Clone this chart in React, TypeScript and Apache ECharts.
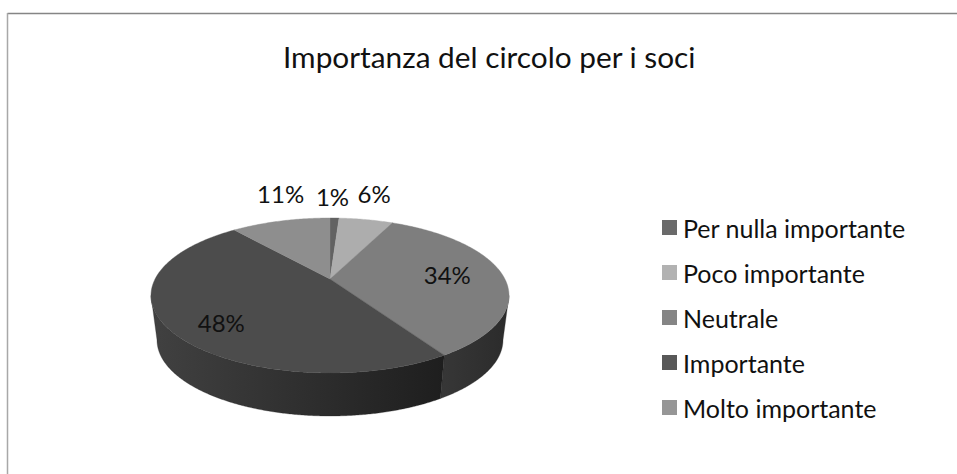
import React, { useEffect, useRef } from "react";
import * as echarts from "echarts";

const titleText = "Importanza del circolo per i soci";
const categories = ["Per nulla importante", "Poco importante", "Neutrale", "Importante", "Molto importante"];
const values = [1, 6, 34, 48, 11];
const legendColors = ["#6a6a6a", "#b2b2b2", "#858585", "#585858", "#969696"];
const topColors = ["#626262", "#adadad", "#7e7e7e", "#4c4c4c", "#8e8e8e"];
const sideLeft = ["#3a3a3a", "#4a4a4a", "#373737", "#414141", "#3a3a3a"];
const sideRight = ["#3a3a3a", "#4a4a4a", "#2b2b2b", "#1e1e1e", "#3a3a3a"];
// label placement relative to the rim point at the slice's mid angle
const labelOffsets = [[-2, -22], [8, -26], [-55, 0], [53, -6], [0, -28]];

const TOP = { cx: 330, cy: 295.5, rx: 179, ry: 77.5 };
const BOTTOM = { cx: 330, cy: 340, rx: 173, ry: 76 };
const APEX_SHIFT = (295.5 - 279) / 77.5;

// true pie angle (deg, clockwise from 12 o'clock) -> rim parameter on the perspective ellipse
function rimParam(deg: number) {
  const a = (deg * Math.PI) / 180;
  const x = Math.sin(a);
  const y = Math.cos(a);
  const d = APEX_SHIFT;
  const w = 1 + d * y;
  let t = Math.atan2((x * Math.sqrt(1 - d * d)) / w, (y + d) / w);
  if (deg > 0 && t < 0) t += Math.PI * 2;
  return t;
}
function rim(e: typeof TOP, t: number) {
  return [e.cx + e.rx * Math.sin(t), e.cy - e.ry * Math.cos(t)];
}
function arc(e: typeof TOP, t0: number, t1: number) {
  const n = Math.max(2, Math.ceil(Math.abs(t1 - t0) / 0.01));
  const pts: number[][] = [];
  for (let i = 0; i <= n; i++) pts.push(rim(e, t0 + ((t1 - t0) * i) / n));
  return pts;
}

function makeRender(i: number) {
  return (_params: any, api: any) => {
    const total = values.reduce((s, v) => s + v, 0);
    const before = values.slice(0, i).reduce((s, v) => s + v, 0);
    const v = api.value(0);
    const a0 = (before / total) * 360;
    const a1 = ((before + v) / total) * 360;
    const t0 = a0 === 0 ? 0 : rimParam(a0);
    const t1 = rimParam(a1);
    const apex = [TOP.cx, TOP.cy - APEX_SHIFT * TOP.ry];
    const children: any[] = [];

    const s0 = Math.max(t0, Math.PI / 2);
    const s1 = Math.min(t1, (Math.PI * 3) / 2);
    if (s1 > s0) {
      const pts = [...arc(TOP, s0, s1), ...arc(BOTTOM, s1, s0)];
      const xs = pts.map((p) => p[0]);
      children.push({
        type: "polygon",
        shape: { points: pts },
        style: {
          fill: new echarts.graphic.LinearGradient(
            Math.min(...xs), 0, Math.max(...xs), 0,
            [{ offset: 0, color: sideLeft[i] }, { offset: 1, color: sideRight[i] }],
            true
          ),
          stroke: sideRight[i],
          lineWidth: 0.3,
        },
      });
    }
    children.push({
      type: "polygon",
      shape: { points: [apex, ...arc(TOP, t0, t1)] },
      style: { fill: topColors[i], stroke: topColors[i], lineWidth: 0.4 },
    });
    const mid = rim(TOP, rimParam((a0 + a1) / 2));
    children.push({
      type: "text",
      z2: 10,
      x: mid[0] + labelOffsets[i][0],
      y: mid[1] + labelOffsets[i][1],
      style: {
        text: `${v}%`,
        fill: "#111111",
        fontFamily: "Lato",
        fontSize: 24,
        align: "center",
        verticalAlign: "middle",
      },
    });
    return { type: "group", children };
  };
}

export default function App() {
  const ref = useRef<HTMLDivElement>(null);
  useEffect(() => {
    const chart = echarts.init(ref.current!, undefined, { renderer: "svg" });
    chart.setOption({
      animation: false,
      backgroundColor: "#ffffff",
      title: {
        text: titleText,
        left: 278,
        top: 36,
        textStyle: { fontFamily: "Lato", fontSize: 29.8, fontWeight: "normal", color: "#111111" },
      },
      legend: {
        orient: "vertical",
        left: 662,
        top: 215,
        padding: 0,
        icon: "rect",
        itemWidth: 15,
        itemHeight: 15,
        itemGap: 20,
        selectedMode: false,
        data: categories,
        textStyle: {
          fontFamily: "Lato",
          fontSize: 25,
          color: "#111111",
          height: 25,
          lineHeight: 25,
          padding: [0, 0, 0, 1],
        },
      },
      graphic: [
        { type: "line", shape: { x1: 7.5, y1: 13.5, x2: 957, y2: 13.5 }, style: { stroke: "#858585", lineWidth: 1.5 } },
        { type: "line", shape: { x1: 7.5, y1: 13, x2: 7.5, y2: 474 }, style: { stroke: "#a8a8a8", lineWidth: 1.5 } },
      ],
      series: categories.map((name, i) => ({
        type: "custom",
        name,
        coordinateSystem: "none",
        itemStyle: { color: legendColors[i] },
        data: [[values[i]]],
        renderItem: makeRender(i),
      })),
    });
    return () => chart.dispose();
  }, []);
  return <div ref={ref} style={{ position: "absolute", left: 0, top: 0, width: 957, height: 474 }} />;
}
